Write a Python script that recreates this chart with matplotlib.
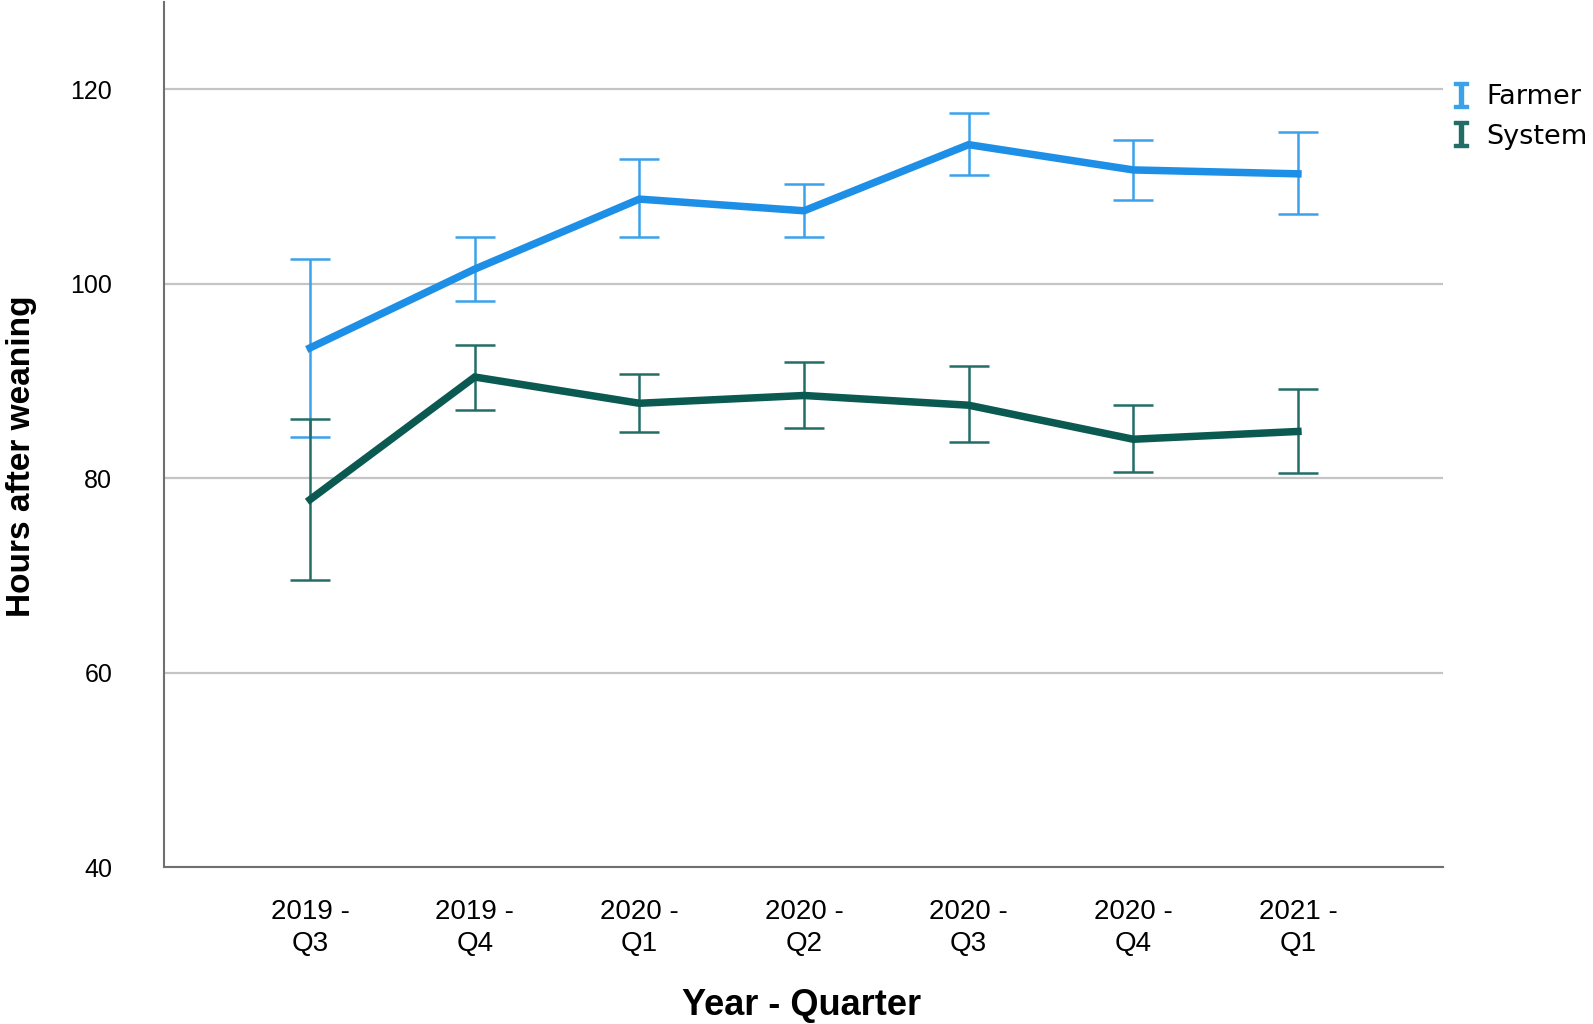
import matplotlib
matplotlib.use("Agg")
import matplotlib.pyplot as plt
from matplotlib.lines import Line2D
import numpy as np

plt.rcParams['font.family'] = ['Liberation Sans', 'DejaVu Sans']

# data
quarters = ['2019 -\nQ3', '2019 -\nQ4', '2020 -\nQ1', '2020 -\nQ2', '2020 -\nQ3', '2020 -\nQ4', '2021 -\nQ1']
farmer_mean = [93.4, 101.5, 108.7, 107.5, 114.3, 111.7, 111.3]
farmer_lo = [84.2, 98.2, 104.8, 104.8, 111.2, 108.6, 107.2]
farmer_hi = [102.5, 104.8, 112.8, 110.3, 117.6, 114.8, 115.6]
system_mean = [77.8, 90.4, 87.7, 88.5, 87.5, 84.0, 84.8]
system_lo = [69.5, 87.0, 84.7, 85.2, 83.7, 80.6, 80.5]
system_hi = [86.1, 93.7, 90.7, 91.9, 91.5, 87.5, 89.2]

farmer_line = '#1e8fe6'
farmer_err = '#3aa2ea'
system_line = '#0b5a52'
system_err = '#226e66'

fig = plt.figure(figsize=(15.93, 10.24), dpi=100)
ax = fig.add_axes([0.1027, 0.1533, 0.803, 0.845])
fig.set_facecolor('white')

x = np.arange(len(quarters))

def draw(mean, lo, hi, lc, ec):
    mean = np.array(mean)
    yerr = [mean - np.array(lo), np.array(hi) - mean]
    ax.errorbar(x, mean, yerr=yerr, fmt='none', ecolor=ec, elinewidth=1.8,
                capsize=14.5, capthick=1.8, zorder=3)
    ax.plot(x, mean, color=lc, lw=5.4, zorder=4, solid_joinstyle='miter')

draw(farmer_mean, farmer_lo, farmer_hi, farmer_line, farmer_err)
draw(system_mean, system_lo, system_hi, system_line, system_err)

ax.set_xlim(-0.89, 6.88)
ax.set_ylim(40, 129)
ax.set_yticks([40, 60, 80, 100, 120])
ax.set_xticks(x)
ax.set_xticklabels(quarters, fontsize=20, linespacing=1.3)
ax.tick_params(axis='y', labelsize=18, length=0, pad=37)
ax.tick_params(axis='x', length=0, pad=23)

ax.grid(axis='y', color='#c4c4c4', lw=1.6)
ax.set_axisbelow(True)
for s in ['top', 'right']:
    ax.spines[s].set_visible(False)
for s in ['left', 'bottom']:
    ax.spines[s].set_color('#707070')
    ax.spines[s].set_linewidth(1.5)

fig.text(22 / 1593, 1 - 456 / 1024, 'Hours after weaning', rotation=90,
         fontsize=24, fontweight='bold', ha='center', va='center')
fig.text(802 / 1593, 1 - 1015 / 1024, 'Year - Quarter',
         fontsize=26, fontweight='bold', ha='center', va='baseline')

handles = [Line2D([], [], ls='none', marker=r'$\mathtt{I}$', markersize=19, color=farmer_err),
           Line2D([], [], ls='none', marker=r'$\mathtt{I}$', markersize=19, color=system_err)]
fig.legend(handles, ['Farmer', 'System'], loc='upper left', bbox_to_anchor=(1450 / 1593, 1 - 84 / 1024),
           frameon=False, borderpad=0, borderaxespad=0,
           prop={'family': 'DejaVu Sans', 'size': 19.5},
           handletextpad=0.55, labelspacing=0.5, handlelength=0.8)

plt.savefig('out.png', dpi=100)
